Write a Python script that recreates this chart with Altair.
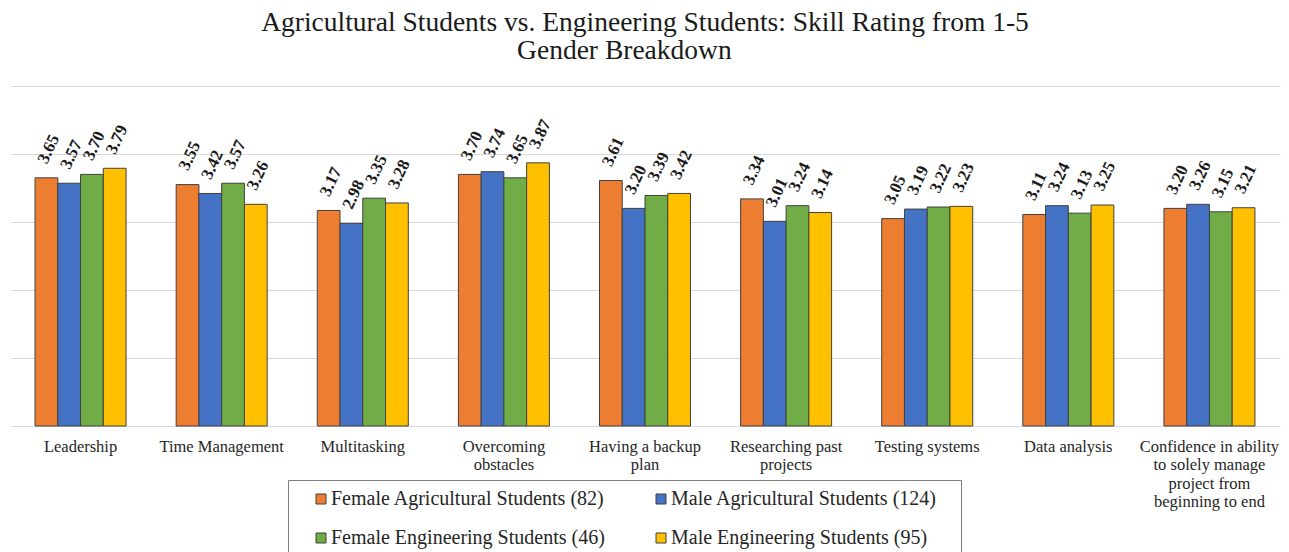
import json

import altair as alt
import pandas as pd

# Skill areas (x categories) and how each label wraps under the axis
categories = [
    "Leadership",
    "Time Management",
    "Multitasking",
    "Overcoming obstacles",
    "Having a backup plan",
    "Researching past projects",
    "Testing systems",
    "Data analysis",
    "Confidence in ability to solely manage project from beginning to end",
]
category_lines = [
    ["Leadership"],
    ["Time Management"],
    ["Multitasking"],
    ["Overcoming", "obstacles"],
    ["Having a backup", "plan"],
    ["Researching past", "projects"],
    ["Testing systems"],
    ["Data analysis"],
    ["Confidence in ability", "to solely manage", "project from", "beginning to end"],
]

# Respondent groups and their colours
groups = [
    "Female Agricultural Students (82)",
    "Male Agricultural Students (124)",
    "Female Engineering Students (46)",
    "Male Engineering Students (95)",
]
colors = ["#ED7D31", "#4472C4", "#70AD47", "#FFC000"]

# Mean skill ratings (1-5) per group, in category order
female_ag = [3.65, 3.55, 3.17, 3.70, 3.61, 3.34, 3.05, 3.11, 3.20]
male_ag = [3.57, 3.42, 2.98, 3.74, 3.20, 3.01, 3.19, 3.24, 3.26]
female_eng = [3.70, 3.57, 3.35, 3.65, 3.39, 3.24, 3.22, 3.13, 3.15]
male_eng = [3.79, 3.26, 3.28, 3.87, 3.42, 3.14, 3.23, 3.25, 3.21]

# Second title line carries trailing hard spaces, as typed in the original title
title_lines = [
    "Agricultural Students vs. Engineering Students: Skill Rating from 1-5",
    "Gender Breakdown" + "\u00a0" * 6 + "\u200b",
]

series = [female_ag, male_ag, female_eng, male_eng]
rows = []
for g, vals in zip(groups, series):
    for c, v in zip(categories, vals):
        rows.append({"category": c, "group": g, "value": v})
df = pd.DataFrame(rows)

label_map = json.dumps(dict(zip(categories, category_lines)))

SERIF = "Liberation Serif"

base = alt.Chart(df).encode(
    x=alt.X(
        "category:N",
        sort=categories,
        scale=alt.Scale(paddingInner=0.355, paddingOuter=0.1775),
        axis=alt.Axis(
            title=None,
            labelAngle=0,
            ticks=False,
            domain=False,
            grid=False,
            labelExpr=f"{label_map}[datum.value]",
            labelFont=SERIF,
            labelFontSize=16.5,
            labelColor="#262626",
            labelPadding=12,
            labelLineHeight=18.5,
            labelLimit=220,
            labelBaseline="top",
        ),
    ),
    xOffset=alt.XOffset("group:N", sort=groups, scale=alt.Scale(paddingInner=0, paddingOuter=0)),
    y=alt.Y(
        "value:Q",
        scale=alt.Scale(domain=[0, 5], nice=False),
        axis=alt.Axis(
            title=None,
            values=[0, 1, 2, 3, 4, 5],
            labels=False,
            ticks=False,
            domain=False,
            gridColor="#d9d9d9",
            gridWidth=1.2,
        ),
    ),
)

bars = base.mark_bar(stroke="#404040", strokeWidth=1).encode(
    color=alt.Color(
        "group:N",
        sort=groups,
        scale=alt.Scale(domain=groups, range=colors),
        legend=alt.Legend(
            title=" ",
            titleOrient="right",
            titlePadding=15,
            orient="none",
            direction="horizontal",
            legendX=278,
            legendY=394,
            columns=2,
            columnPadding=32,
            rowPadding=19,
            gridAlign="all",
            symbolType="square",
            symbolSize=100,
            symbolStrokeColor="#404040",
            symbolStrokeWidth=1,
            symbolOffset=14,
            labelFont=SERIF,
            labelFontSize=20,
            labelColor="#262626",
            labelOffset=0,
            labelLimit=400,
            padding=9,
            strokeColor="#7f7f7f",
        ),
    )
)

# Value labels, tilted up and to the right above each bar
labels = base.mark_text(
    angle=295,
    align="left",
    baseline="middle",
    dx=12,
    dy=-10,
    font=SERIF,
    fontSize=17,
    fontWeight="bold",
    color="#1a1a1a",
).encode(text=alt.Text("value:Q", format=".2f"))

chart = (
    alt.layer(bars, labels)
    .properties(
        width=1270,
        height=340,
        autosize=alt.AutoSizeParams(type="none"),
        padding={"left": 10, "top": 86, "right": 9, "bottom": 126},
        title=alt.TitleParams(
            title_lines,
            font=SERIF,
            fontSize=27.5,
            fontWeight="normal",
            color="#1a1a1a",
            anchor="middle",
            lineHeight=28,
            offset=22,
        ),
    )
    .configure_view(stroke=None)
)

chart.save("out.html", embed_options={"renderer": "svg", "actions": False})
